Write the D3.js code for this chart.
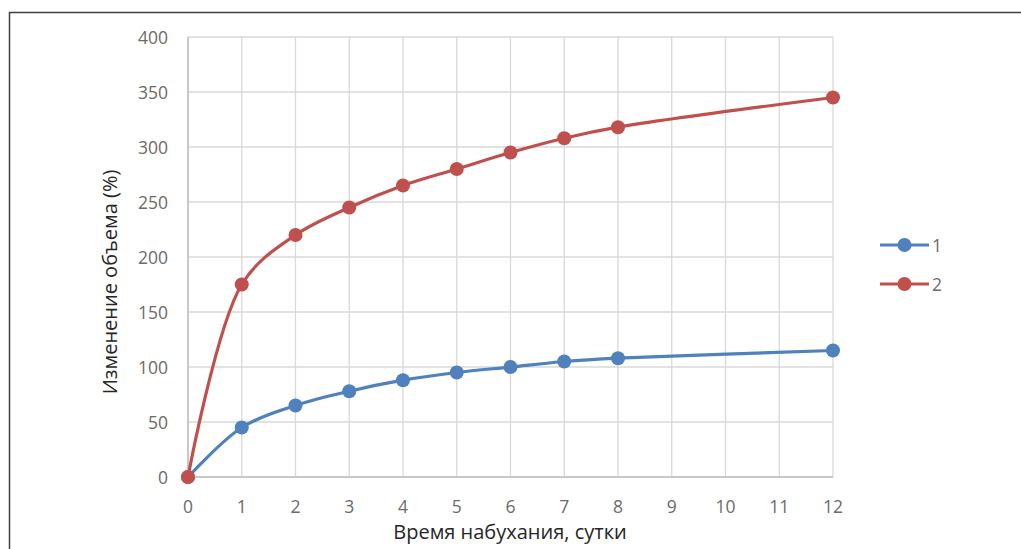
<!DOCTYPE html>
<html>
<head>
<meta charset="utf-8">
<script src="https://cdn.jsdelivr.net/npm/d3@7"></script>
<style>
  body { margin: 0; background: #fff; }
  svg { display: block; font-family: "Open Sans", "Liberation Sans", sans-serif; }
</style>
</head>
<body>
<svg id="chart" width="1021" height="549"></svg>
<script>
// данные с графика: время набухания (сутки) и изменение объема (%)
const days = [0, 1, 2, 3, 4, 5, 6, 7, 8, 12];
const series1 = [0, 45, 65, 78, 88, 95, 100, 105, 108, 115];
const series2 = [0, 175, 220, 245, 265, 280, 295, 308, 318, 345];
const seriesNames = ["1", "2"];
const xTicks = [0, 1, 2, 3, 4, 5, 6, 7, 8, 9, 10, 11, 12];
const yTicks = [0, 50, 100, 150, 200, 250, 300, 350, 400];

const colors = ["#4f81bd", "#c0504d"];
const svg = d3.select("#chart");

// рамка диаграммы
svg.append("rect")
  .attr("x", 9.5).attr("y", 12.5)
  .attr("width", 1040).attr("height", 560)
  .attr("fill", "none")
  .attr("stroke", "#404040")
  .attr("stroke-width", 1.5);

const x = d3.scaleLinear().domain([0, 12]).range([188, 833]);
const y = d3.scaleLinear().domain([0, 400]).range([477, 37]);

// сетка
const grid = svg.append("g");
grid.selectAll("line.v")
  .data(xTicks)
  .join("line")
  .attr("x1", d => x(d)).attr("x2", d => x(d))
  .attr("y1", y(400)).attr("y2", y(0))
  .attr("stroke", "#d9d9d9").attr("stroke-width", 1.3);
grid.selectAll("line.h")
  .data(yTicks)
  .join("line")
  .attr("x1", x(0)).attr("x2", x(12))
  .attr("y1", d => y(d)).attr("y2", d => y(d))
  .attr("stroke", "#d9d9d9").attr("stroke-width", 1.3);

// оси
svg.append("line")
  .attr("x1", x(0)).attr("x2", x(12))
  .attr("y1", y(0)).attr("y2", y(0))
  .attr("stroke", "#bfbfbf").attr("stroke-width", 1.5);
svg.append("line")
  .attr("x1", x(0)).attr("x2", x(0))
  .attr("y1", y(400)).attr("y2", y(0))
  .attr("stroke", "#bfbfbf").attr("stroke-width", 1.5);

// подписи делений
svg.append("g")
  .selectAll("text")
  .data(xTicks)
  .join("text")
  .attr("x", d => x(d))
  .attr("y", 513)
  .attr("text-anchor", "middle")
  .attr("font-size", 17.5)
  .attr("fill", "#6b6b6b")
  .text(d => d);
svg.append("g")
  .selectAll("text")
  .data(yTicks)
  .join("text")
  .attr("x", 168)
  .attr("y", d => y(d) + 6.5)
  .attr("text-anchor", "end")
  .attr("font-size", 17.5)
  .attr("fill", "#6b6b6b")
  .text(d => d);

// названия осей
svg.append("text")
  .attr("x", 510).attr("y", 539)
  .attr("text-anchor", "middle")
  .attr("font-size", 20)
  .attr("fill", "#262626")
  .text("Время набухания, сутки");
svg.append("text")
  .attr("transform", "translate(117,282) rotate(-90)")
  .attr("text-anchor", "middle")
  .attr("font-size", 20)
  .attr("fill", "#262626")
  .text("Изменение объема (%)");

// линии (сглаженные, как в Excel)
const line = d3.line()
  .x((d, i) => x(days[i]))
  .y(d => y(d))
  .curve(d3.curveCatmullRom.alpha(0.5));

[series1, series2].forEach((vals, k) => {
  const g = svg.append("g");
  g.append("path")
    .attr("d", line(vals))
    .attr("fill", "none")
    .attr("stroke", colors[k])
    .attr("stroke-width", 3.2)
    .attr("stroke-linecap", "round");
  g.selectAll("circle")
    .data(vals)
    .join("circle")
    .attr("cx", (d, i) => x(days[i]))
    .attr("cy", d => y(d))
    .attr("r", 7)
    .attr("fill", colors[k]);
});

// легенда
const legend = svg.append("g");
seriesNames.forEach((name, k) => {
  const ly = 245 + k * 39;
  legend.append("line")
    .attr("x1", 880).attr("x2", 929)
    .attr("y1", ly).attr("y2", ly)
    .attr("stroke", colors[k]).attr("stroke-width", 3.2);
  legend.append("circle")
    .attr("cx", 904.5).attr("cy", ly).attr("r", 7)
    .attr("fill", colors[k]);
  legend.append("text")
    .attr("x", 932).attr("y", ly + 6.5)
    .attr("font-size", 17.5)
    .attr("fill", "#6b6b6b")
    .text(name);
});
</script>
</body>
</html>
